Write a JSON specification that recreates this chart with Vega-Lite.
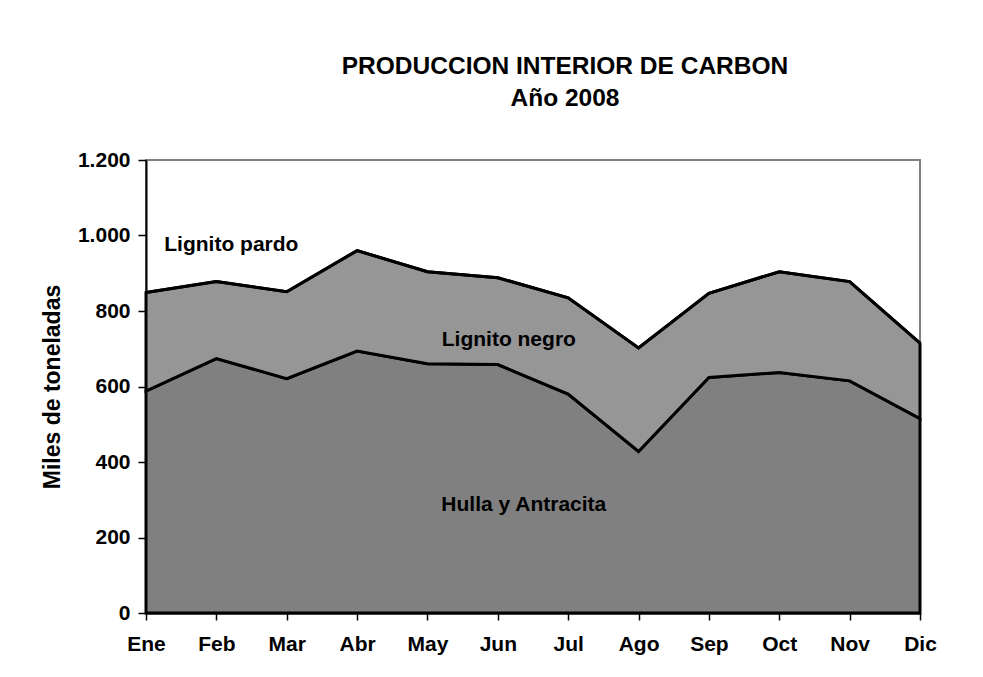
{
  "$schema": "https://vega.github.io/schema/vega-lite/v6.json",
  "width": 774,
  "height": 453,
  "autosize": {"type": "none"},
  "padding": {"left": 146, "top": 160, "right": 63, "bottom": 64},
  "background": "white",
  "config": {
    "font": "Liberation Sans",
    "view": {"stroke": "#808080", "strokeWidth": 2}
  },
  "title": {
    "text": ["PRODUCCION INTERIOR DE CARBON", "Año 2008"],
    "fontSize": 24.5,
    "fontWeight": "bold",
    "font": "Liberation Sans",
    "color": "black",
    "lineHeight": 32,
    "anchor": "middle",
    "dx": 32,
    "offset": 38
  },
  "datasets": {
    "produccion": [
      {"mes": "Ene", "tipo": "Hulla y Antracita", "orden": 1, "valor": 588},
      {"mes": "Feb", "tipo": "Hulla y Antracita", "orden": 1, "valor": 674},
      {"mes": "Mar", "tipo": "Hulla y Antracita", "orden": 1, "valor": 621},
      {"mes": "Abr", "tipo": "Hulla y Antracita", "orden": 1, "valor": 694},
      {"mes": "May", "tipo": "Hulla y Antracita", "orden": 1, "valor": 660},
      {"mes": "Jun", "tipo": "Hulla y Antracita", "orden": 1, "valor": 658},
      {"mes": "Jul", "tipo": "Hulla y Antracita", "orden": 1, "valor": 580},
      {"mes": "Ago", "tipo": "Hulla y Antracita", "orden": 1, "valor": 428},
      {"mes": "Sep", "tipo": "Hulla y Antracita", "orden": 1, "valor": 624},
      {"mes": "Oct", "tipo": "Hulla y Antracita", "orden": 1, "valor": 637},
      {"mes": "Nov", "tipo": "Hulla y Antracita", "orden": 1, "valor": 615},
      {"mes": "Dic", "tipo": "Hulla y Antracita", "orden": 1, "valor": 515},
      {"mes": "Ene", "tipo": "Lignito negro", "orden": 2, "valor": 261},
      {"mes": "Feb", "tipo": "Lignito negro", "orden": 2, "valor": 204},
      {"mes": "Mar", "tipo": "Lignito negro", "orden": 2, "valor": 230},
      {"mes": "Abr", "tipo": "Lignito negro", "orden": 2, "valor": 266},
      {"mes": "May", "tipo": "Lignito negro", "orden": 2, "valor": 244},
      {"mes": "Jun", "tipo": "Lignito negro", "orden": 2, "valor": 230},
      {"mes": "Jul", "tipo": "Lignito negro", "orden": 2, "valor": 255},
      {"mes": "Ago", "tipo": "Lignito negro", "orden": 2, "valor": 274},
      {"mes": "Sep", "tipo": "Lignito negro", "orden": 2, "valor": 223},
      {"mes": "Oct", "tipo": "Lignito negro", "orden": 2, "valor": 267},
      {"mes": "Nov", "tipo": "Lignito negro", "orden": 2, "valor": 263},
      {"mes": "Dic", "tipo": "Lignito negro", "orden": 2, "valor": 200},
      {"mes": "Ene", "tipo": "Lignito pardo", "orden": 3, "valor": 0},
      {"mes": "Feb", "tipo": "Lignito pardo", "orden": 3, "valor": 0},
      {"mes": "Mar", "tipo": "Lignito pardo", "orden": 3, "valor": 0},
      {"mes": "Abr", "tipo": "Lignito pardo", "orden": 3, "valor": 0},
      {"mes": "May", "tipo": "Lignito pardo", "orden": 3, "valor": 0},
      {"mes": "Jun", "tipo": "Lignito pardo", "orden": 3, "valor": 0},
      {"mes": "Jul", "tipo": "Lignito pardo", "orden": 3, "valor": 0},
      {"mes": "Ago", "tipo": "Lignito pardo", "orden": 3, "valor": 0},
      {"mes": "Sep", "tipo": "Lignito pardo", "orden": 3, "valor": 0},
      {"mes": "Oct", "tipo": "Lignito pardo", "orden": 3, "valor": 0},
      {"mes": "Nov", "tipo": "Lignito pardo", "orden": 3, "valor": 0},
      {"mes": "Dic", "tipo": "Lignito pardo", "orden": 3, "valor": 0}
    ],
    "etiquetas": [
      {"mes": "Feb", "valor": 975, "texto": "Lignito pardo"},
      {"mes": "Jun", "valor": 723, "texto": "Lignito negro"},
      {"mes": "Jun", "valor": 287, "texto": "Hulla y Antracita"}
    ]
  },
  "encoding": {
    "x": {
      "field": "mes",
      "type": "ordinal",
      "sort": ["Ene","Feb","Mar","Abr","May","Jun","Jul","Ago","Sep","Oct","Nov","Dic"],
      "scale": {"type": "point", "padding": 0},
      "axis": {
        "title": null,
        "labelAngle": 0,
        "labelFont": "Liberation Sans",
        "labelFontSize": 21,
        "labelFontWeight": "bold",
        "labelColor": "black",
        "labelPadding": 13,
        "domainColor": "black",
        "domainWidth": 2,
        "tickColor": "black",
        "tickWidth": 1.5,
        "tickSize": 7,
        "grid": false
      }
    },
    "y": {
      "field": "valor",
      "type": "quantitative",
      "scale": {"domain": [0, 1200], "nice": false},
      "axis": {
        "title": "Miles de toneladas",
        "titleFont": "Liberation Sans",
        "titleFontSize": 23,
        "titleFontWeight": "bold",
        "titleColor": "black",
        "titlePadding": 13,
        "values": [0, 200, 400, 600, 800, 1000, 1200],
        "labelExpr": "replace(format(datum.value, ','), ',', '.')",
        "labelFont": "Liberation Sans",
        "labelFontSize": 21,
        "labelFontWeight": "bold",
        "labelColor": "black",
        "labelPadding": 8,
        "domainColor": "black",
        "domainWidth": 2,
        "tickColor": "black",
        "tickWidth": 1.5,
        "tickSize": 8,
        "grid": false
      }
    }
  },
  "layer": [
    {
      "data": {"name": "produccion"},
      "mark": {"type": "area", "stroke": "black", "strokeWidth": 3, "strokeJoin": "miter", "opacity": 1},
      "encoding": {
        "y": {"field": "valor", "type": "quantitative", "stack": "zero"},
        "order": {"field": "orden", "type": "quantitative", "sort": "ascending"},
        "color": {
          "field": "tipo",
          "type": "nominal",
          "scale": {
            "domain": ["Hulla y Antracita", "Lignito negro", "Lignito pardo"],
            "range": ["#808080", "#969696", "#ffffff"]
          },
          "legend": null
        }
      }
    },
    {
      "data": {"name": "etiquetas"},
      "transform": [{"filter": "datum.texto == 'Lignito pardo'"}],
      "mark": {"type": "text", "font": "Liberation Sans", "fontSize": 21, "fontWeight": "bold", "color": "black", "align": "center", "baseline": "middle", "dx": 15},
      "encoding": {"text": {"field": "texto"}}
    },
    {
      "data": {"name": "etiquetas"},
      "transform": [{"filter": "datum.texto == 'Lignito negro'"}],
      "mark": {"type": "text", "font": "Liberation Sans", "fontSize": 21, "fontWeight": "bold", "color": "black", "align": "center", "baseline": "middle", "dx": 11},
      "encoding": {"text": {"field": "texto"}}
    },
    {
      "data": {"name": "etiquetas"},
      "transform": [{"filter": "datum.texto == 'Hulla y Antracita'"}],
      "mark": {"type": "text", "font": "Liberation Sans", "fontSize": 21, "fontWeight": "bold", "color": "black", "align": "center", "baseline": "middle", "dx": 26},
      "encoding": {"text": {"field": "texto"}}
    }
  ]
}
